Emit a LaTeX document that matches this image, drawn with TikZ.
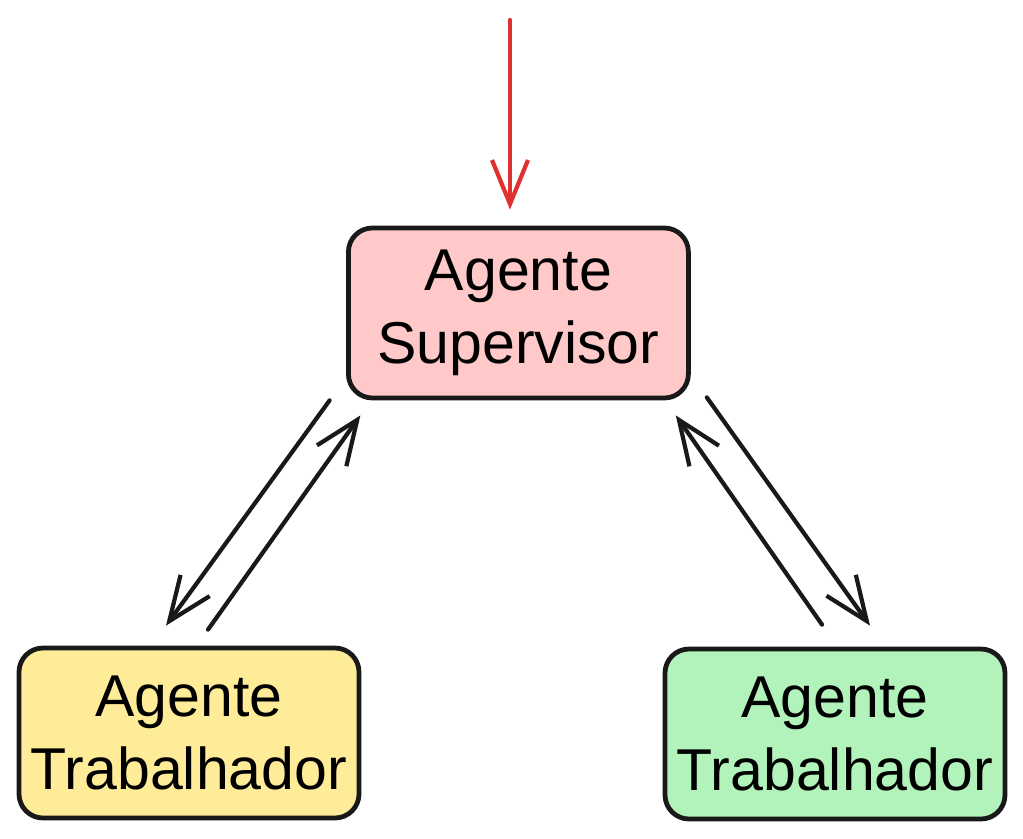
\documentclass[tikz,border=0pt]{standalone}
\usepackage{fontspec}
\setmainfont{Liberation Sans}
\usepackage{xcolor}
\usepackage{tikz}
\usetikzlibrary{shapes,arrows,arrows.meta,positioning}

\definecolor{supfill}{HTML}{FFC9C9}
\definecolor{workyellow}{HTML}{FFEC99}
\definecolor{workgreen}{HTML}{B2F2BB}
\definecolor{inred}{HTML}{E03131}

\tikzset{
    agentbox/.style={
        draw=black!90,
        line width=3.4pt,
        rounded corners=0.6cm,
        minimum width=8.5cm,
        minimum height=4.25cm,
        inner sep=0pt,
        align=center,
        font=\fontsize{42}{52}\selectfont
    },
    flow/.style={
        draw=black!90,
        line width=3pt,
        line cap=round,
        -{Straight Barb[length=11mm,width=9mm,line width=3pt]}
    }
}

\begin{document}
\begin{tikzpicture}
                \useasboundingbox (0,0) rectangle (25.575,-20.95);

                \node[agentbox, fill=supfill] (sup) at (12.96,-7.825) {Agente\\Supervisor};
                \node[agentbox, fill=workyellow] (left) at (4.725,-18.325) {Agente\\Trabalhador};
                \node[agentbox, fill=workgreen] (right) at (20.875,-18.35) {Agente\\Trabalhador};

                \coordinate (in) at (12.75,-0.5);

                % input
                \draw[
                    flow,
                    draw=inred
                    ] (in) -- ([xshift=-0.21cm,yshift=0.4cm]sup.north);

                % supervisor <-> left worker
                \draw[flow] ([xshift=-0.41cm]sup.south west) -- ([xshift=-0.575cm,yshift=0.5cm]left.north);
                \draw[flow] ([xshift=0.475cm,yshift=0.4cm]left.north) -- ([xshift=0.36cm,yshift=-0.375cm]sup.south west);

                % supervisor <-> right worker
                \draw[flow] ([xshift=-0.325cm,yshift=0.55cm]right.north) -- ([xshift=-0.375cm,yshift=-0.375cm]sup.south east);
                \draw[flow] ([xshift=0.4cm,yshift=0.075cm]sup.south east) -- ([xshift=0.875cm,yshift=0.525cm]right.north);
\end{tikzpicture}
\end{document}
